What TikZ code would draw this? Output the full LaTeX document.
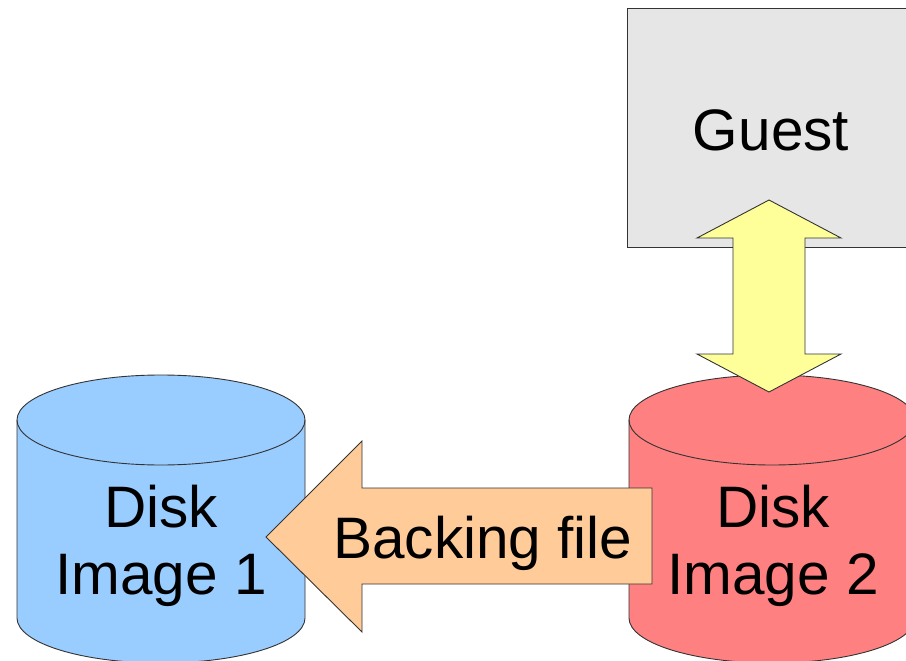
\documentclass[tikz,border=0pt]{standalone}
\usepackage{fontspec}
\setmainfont{Liberation Sans}
\definecolor{guestgray}{HTML}{E6E6E6}
\definecolor{diskblue}{HTML}{99CCFF}
\definecolor{diskred}{HTML}{FF8080}
\definecolor{arrowyellow}{HTML}{FFFF99}
\definecolor{arrowpeach}{HTML}{FFCC99}
\definecolor{edge}{HTML}{333333}
\tikzset{
  shapeline/.style={draw=edge, line width=0.9pt, line join=miter},
  bigtext/.style={font=\fontsize{58.5}{67}\selectfont, align=center, inner sep=0pt, text=black},
}
\begin{document}
\begin{tikzpicture}[x=1pt,y=-1pt]
\useasboundingbox (0,0) rectangle (906,661);
\begin{scope}
\clip (0,0) rectangle (906,661);
% Guest box
\draw[shapeline, fill=guestgray] (627,8) rectangle (916,247);
\node[bigtext, anchor=base] (guest) at (771,150) {Guest};
% Disk image 1 (blue cylinder)
\draw[shapeline, fill=diskblue] (17,420) -- (17,618) arc[start angle=180, end angle=0, x radius=144, y radius=45] -- (305,420) arc[start angle=0, end angle=-180, x radius=144, y radius=45] -- cycle;
\draw[shapeline] (17,420) arc[start angle=180, end angle=0, x radius=144, y radius=45];
\node[bigtext] (disk1) at (161,546) {Disk\\Image 1};
% Disk image 2 (red cylinder)
\draw[shapeline, fill=diskred] (629,420) -- (629,618) arc[start angle=180, end angle=0, x radius=143, y radius=45] -- (915,420) arc[start angle=0, end angle=-180, x radius=143, y radius=45] -- cycle;
\draw[shapeline] (629,420) arc[start angle=180, end angle=0, x radius=143, y radius=45];
\node[bigtext] (disk2) at (773,546) {Disk\\Image 2};
% Double arrow Guest <-> Disk 2
\draw[shapeline, fill=arrowyellow] (769,200) -- (841,238) -- (805,238) -- (805,354) -- (841,354) -- (769,392) -- (697,354) -- (733,354) -- (733,238) -- (697,238) -- cycle;
% Backing file arrow
\draw[shapeline, fill=arrowpeach] (266,537) -- (362,441) -- (362,488) -- (652,488) -- (652,584) -- (362,584) -- (362,632) -- cycle;
\node[bigtext, anchor=base] (backing) at (483,558) {Backing file};
\end{scope}
\end{tikzpicture}
\end{document}
